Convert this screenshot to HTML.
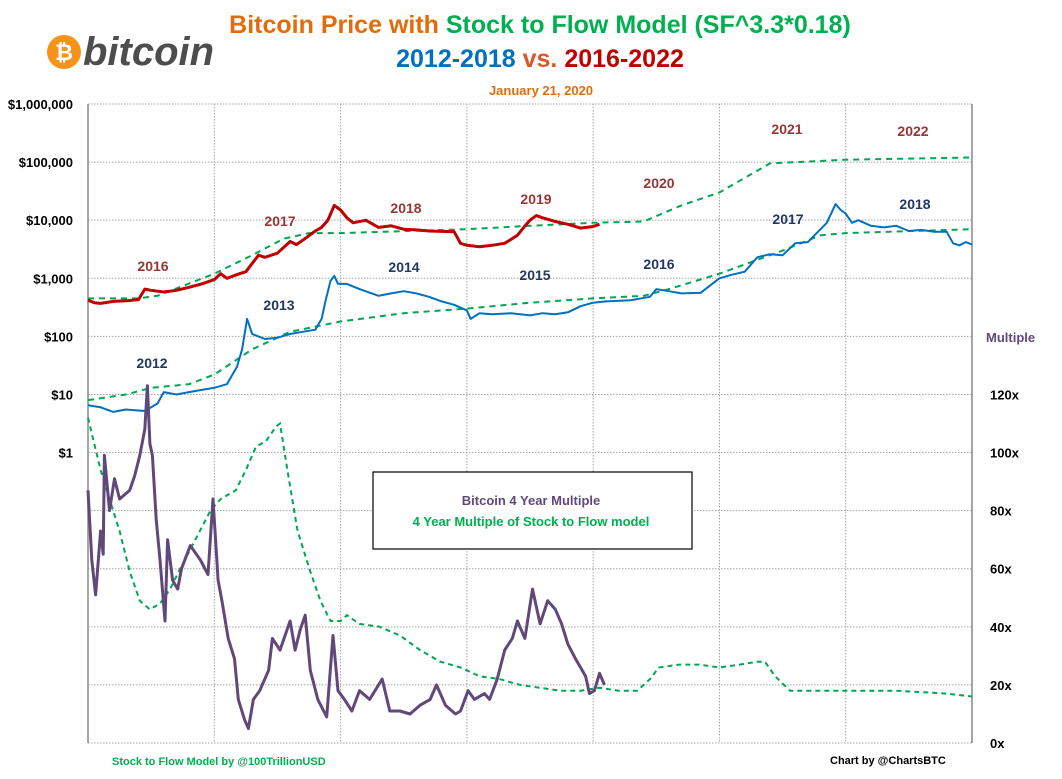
<!DOCTYPE html>
<html><head><meta charset="utf-8"><style>
body{margin:0;background:#fff;width:1062px;height:774px;overflow:hidden;font-family:"Liberation Sans",sans-serif}
svg text{font-family:"Liberation Sans",sans-serif;font-weight:bold}
</style></head><body>
<svg id="chart" width="1062" height="774" viewBox="0 0 1062 774">
<g id="grid"></g>
<g id="series"></g>
<g id="labels"></g>
<g>
<circle cx="64" cy="52" r="17" fill="#f7931a"/>
<text x="64" y="60" font-size="22" fill="#fff" text-anchor="middle">₿</text>
<text x="83" y="65" font-size="40" font-style="italic" fill="#4d4d4d">bitcoin</text>
</g>
<text x="540" y="33" font-size="25" text-anchor="middle"><tspan fill="#e36c0a">Bitcoin Price with </tspan><tspan fill="#00b050">Stock to Flow Model (SF^3.3*0.18)</tspan></text>
<text x="540" y="67" font-size="25" text-anchor="middle"><tspan fill="#0070c0">2012-2018</tspan><tspan fill="#d9572b"> vs. </tspan><tspan fill="#c00000">2016-2022</tspan></text>
<text x="541" y="95" font-size="13" fill="#e36c0a" text-anchor="middle">January 21, 2020</text>
<rect x="373" y="472" width="319" height="77" fill="#fff" stroke="#000" stroke-width="1.2"/>
<text x="531" y="505" font-size="13" fill="#60497a" text-anchor="middle">Bitcoin 4 Year Multiple</text>
<text x="531" y="526" font-size="13" fill="#00b050" text-anchor="middle">4 Year Multiple  of Stock to Flow model</text>
<text x="986" y="342" font-size="13" fill="#60497a">Multiple</text>
<text x="112" y="765" font-size="11" fill="#00b050">Stock to Flow Model by @100TrillionUSD</text>
<text x="830" y="764" font-size="11" fill="#000">Chart by @ChartsBTC</text>
</svg>
<script>
const priceTicks=[1,10,100,1000,10000,100000,1000000];
const priceTickLabels=["$1","$10","$100","$1,000","$10,000","$100,000","$1,000,000"];
const multTicks=[0,20,40,60,80,100,120];
const multTickLabels=["0x","20x","40x","60x","80x","100x","120x"];
const blueYears=[0,0.1,0.2,0.3,0.45,0.55,0.6,0.7,0.8,0.9,1.0,1.1,1.18,1.22,1.26,1.3,1.4,1.5,1.6,1.7,1.8,1.85,1.88,1.92,1.95,1.98,2.05,2.15,2.3,2.4,2.5,2.6,2.7,2.8,2.9,3.0,3.03,3.1,3.2,3.35,3.5,3.6,3.7,3.8,3.9,4.0,4.1,4.3,4.45,4.5,4.6,4.7,4.85,5.0,5.1,5.2,5.3,5.4,5.5,5.6,5.7,5.8,5.85,5.92,5.96,6.0,6.05,6.1,6.2,6.3,6.4,6.5,6.6,6.7,6.8,6.85,6.9,6.95,7.0];
const blueVals=[6.5,6,5,5.5,5.2,7,11,10,11,12,13,15,30,60,200,110,90,95,110,120,130,200,400,900,1100,800,800,650,500,550,600,550,480,400,350,280,200,250,240,250,230,250,240,260,330,380,400,420,480,650,600,550,560,1000,1150,1300,2300,2600,2500,4000,4200,7000,9000,19000,15000,13000,9000,10000,8000,7500,8000,6500,6800,6300,6300,4000,3700,4200,3800];
const redYears=[0,0.05,0.1,0.2,0.3,0.4,0.45,0.5,0.6,0.7,0.8,0.9,1.0,1.05,1.1,1.2,1.25,1.35,1.4,1.5,1.6,1.65,1.7,1.8,1.85,1.9,1.95,2.0,2.05,2.1,2.2,2.3,2.4,2.5,2.6,2.7,2.8,2.9,2.95,3.0,3.1,3.2,3.3,3.4,3.45,3.5,3.55,3.6,3.7,3.8,3.9,4.0,4.05];
const redVals=[420,380,370,400,410,430,650,620,580,620,700,800,950,1200,1000,1200,1300,2500,2300,2700,4300,3800,4500,6500,7500,10000,18000,15000,11000,9000,10000,7500,8000,7000,6800,6500,6400,6300,4000,3700,3500,3700,4000,5500,7500,10000,12000,11000,9500,8500,7300,7800,8500];
const blueS2fYears=[0,0.3,0.5,0.8,1.0,1.3,1.6,2.0,2.5,3.0,3.5,4.0,4.4,4.6,5.0,5.5,5.8,6.0,7.0];
const blueS2fVals=[8,10,13,15,22,60,120,180,250,300,380,450,500,650,1200,3000,5500,6000,7000];
const redS2fYears=[0,0.4,0.55,1.0,1.3,1.55,1.75,2.0,3.0,3.5,4.0,4.4,4.7,5.0,5.4,6.0,7.0];
const redS2fVals=[450,450,500,1200,2500,4800,6000,6000,7000,8000,9000,9500,18000,30000,95000,110000,120000];
const multYears=[0,0.03,0.06,0.1,0.12,0.13,0.17,0.21,0.25,0.33,0.37,0.41,0.45,0.47,0.49,0.51,0.54,0.57,0.61,0.63,0.67,0.71,0.74,0.81,0.89,0.95,0.99,1.03,1.06,1.11,1.16,1.19,1.24,1.27,1.31,1.36,1.43,1.46,1.52,1.6,1.64,1.68,1.72,1.76,1.82,1.89,1.94,1.98,2.03,2.09,2.15,2.23,2.33,2.39,2.47,2.55,2.63,2.71,2.76,2.83,2.91,2.95,3.01,3.06,3.14,3.18,3.24,3.3,3.36,3.4,3.46,3.52,3.58,3.64,3.7,3.75,3.8,3.86,3.94,3.97,4.01,4.05,4.09];
const multVals=[87,63,51,73,65,99,80,91,84,87,92,99,108,123,103,99,77,63,42,70,56,53,60,68,63,58,84,56,49,36,29,15,8,5,15,18,25,36,32,42,32,39,44,25,15,9,37,18,15,11,18,15,22,11,11,10,13,15,20,13,10,11,18,15,17,15,22,32,36,42,36,53,41,49,46,41,34,29,23,17,18,24,20];
const s2fMultYears=[0,0.1,0.17,0.25,0.33,0.41,0.49,0.57,0.65,0.73,0.85,0.97,1.05,1.17,1.25,1.33,1.41,1.49,1.52,1.59,1.66,1.76,1.84,1.92,2.0,2.05,2.15,2.31,2.47,2.63,2.79,2.95,3.1,3.26,3.42,3.58,3.74,3.9,4.05,4.2,4.35,4.45,4.52,4.68,4.84,5.0,5.16,5.3,5.36,5.44,5.56,6.0,6.4,6.8,7.0];
const s2fMultVals=[112,94,84,73,59,49,46,48,53,60,70,80,84,87,94,102,104,109,110,91,73,59,49,42,42,44,41,40,37,32,28,26,23,22,20,19,18,18,19,18,18,22,26,27,27,26,27,28,28,23,18,18,18,17,16];
const yearLabelsRed=["2016","2017","2018","2019","2020","2021","2022"];
const yearLabelsBlue=["2012","2013","2014","2015","2016","2017","2018"];

const X0=88,X1=972,Y0=104,Y1=743;
const ns="http://www.w3.org/2000/svg";
function xs(t){return X0+(X1-X0)*t/7;}
function yp(v){return Y1-(Y1-Y0)*(Math.log10(v)+5)/11;}
function ym(v){return Y1-(Y1-Y0)*v/220;}
function mk(tag,attrs,parent){const e=document.createElementNS(ns,tag);for(const k in attrs)e.setAttribute(k,attrs[k]);parent.appendChild(e);return e;}
const grid=document.getElementById('grid'),ser=document.getElementById('series'),lab=document.getElementById('labels');
for(let i=0;i<=11;i++){const y=Y0+(Y1-Y0)*i/11;const l=mk('line',{x1:X0,x2:X1,y1:y,y2:y,stroke:'#a6a6a6','stroke-width':1,'stroke-dasharray':'1.5,1.5'},grid);

}
for(let i=1;i<=6;i++){const x=xs(i);const l=mk('line',{x1:x,x2:x,y1:Y0,y2:Y1,stroke:'#a6a6a6','stroke-width':1,'stroke-dasharray':'1.5,1.5'},grid);

}
const la=mk('line',{x1:X0,x2:X0,y1:Y0,y2:Y1,stroke:'#888','stroke-width':1.5},grid);


const ra=mk('line',{x1:X1,x2:X1,y1:Y0,y2:Y1,stroke:'#888','stroke-width':1.5},grid);


priceTicks.forEach((v,i)=>{const t=mk('text',{x:73,y:yp(v)+5,'font-size':13,'text-anchor':'end',fill:'#000'},lab);t.textContent=priceTickLabels[i];

});
multTicks.forEach((v,i)=>{const t=mk('text',{x:990,y:ym(v)+5,'font-size':13,fill:'#000'},lab);t.textContent=multTickLabels[i];

});
function path(xsArr,vs,yf){return xsArr.map((t,i)=>(i?'L':'M')+xs(t).toFixed(1)+','+yf(vs[i]).toFixed(1)).join('');}
const p1=mk('path',{d:path(blueS2fYears,blueS2fVals,yp),fill:'none',stroke:'#00a651','stroke-width':2,'stroke-dasharray':'6,5'},ser);


const p2=mk('path',{d:path(redS2fYears,redS2fVals,yp),fill:'none',stroke:'#00a651','stroke-width':2,'stroke-dasharray':'6,5'},ser);


const p3=mk('path',{d:path(s2fMultYears,s2fMultVals,ym),fill:'none',stroke:'#00a651','stroke-width':2,'stroke-dasharray':'5,4'},ser);


const p4=mk('path',{d:path(blueYears,blueVals,yp),fill:'none',stroke:'#0070c0','stroke-width':2,'stroke-linejoin':'round'},ser);


const p5=mk('path',{d:path(redYears,redVals,yp),fill:'none',stroke:'#c00000','stroke-width':3,'stroke-linejoin':'round'},ser);


const p6=mk('path',{d:path(multYears,multVals,ym),fill:'none',stroke:'#60497a','stroke-width':3,'stroke-linejoin':'round'},ser);


const redPos=[[153,271],[280,226],[406,213],[536,204],[659,188],[787,134],[913,136]];
const bluePos=[[152,368],[279,310],[404,272],[535,280],[659,269],[788,224],[915,209]];
yearLabelsRed.forEach((s,i)=>{const t=mk('text',{x:redPos[i][0],y:redPos[i][1],'font-size':14,fill:'#953735','text-anchor':'middle'},lab);t.textContent=s;

});
yearLabelsBlue.forEach((s,i)=>{const t=mk('text',{x:bluePos[i][0],y:bluePos[i][1],'font-size':14,fill:'#1f3864','text-anchor':'middle'},lab);t.textContent=s;

});
</script>
</body></html>
